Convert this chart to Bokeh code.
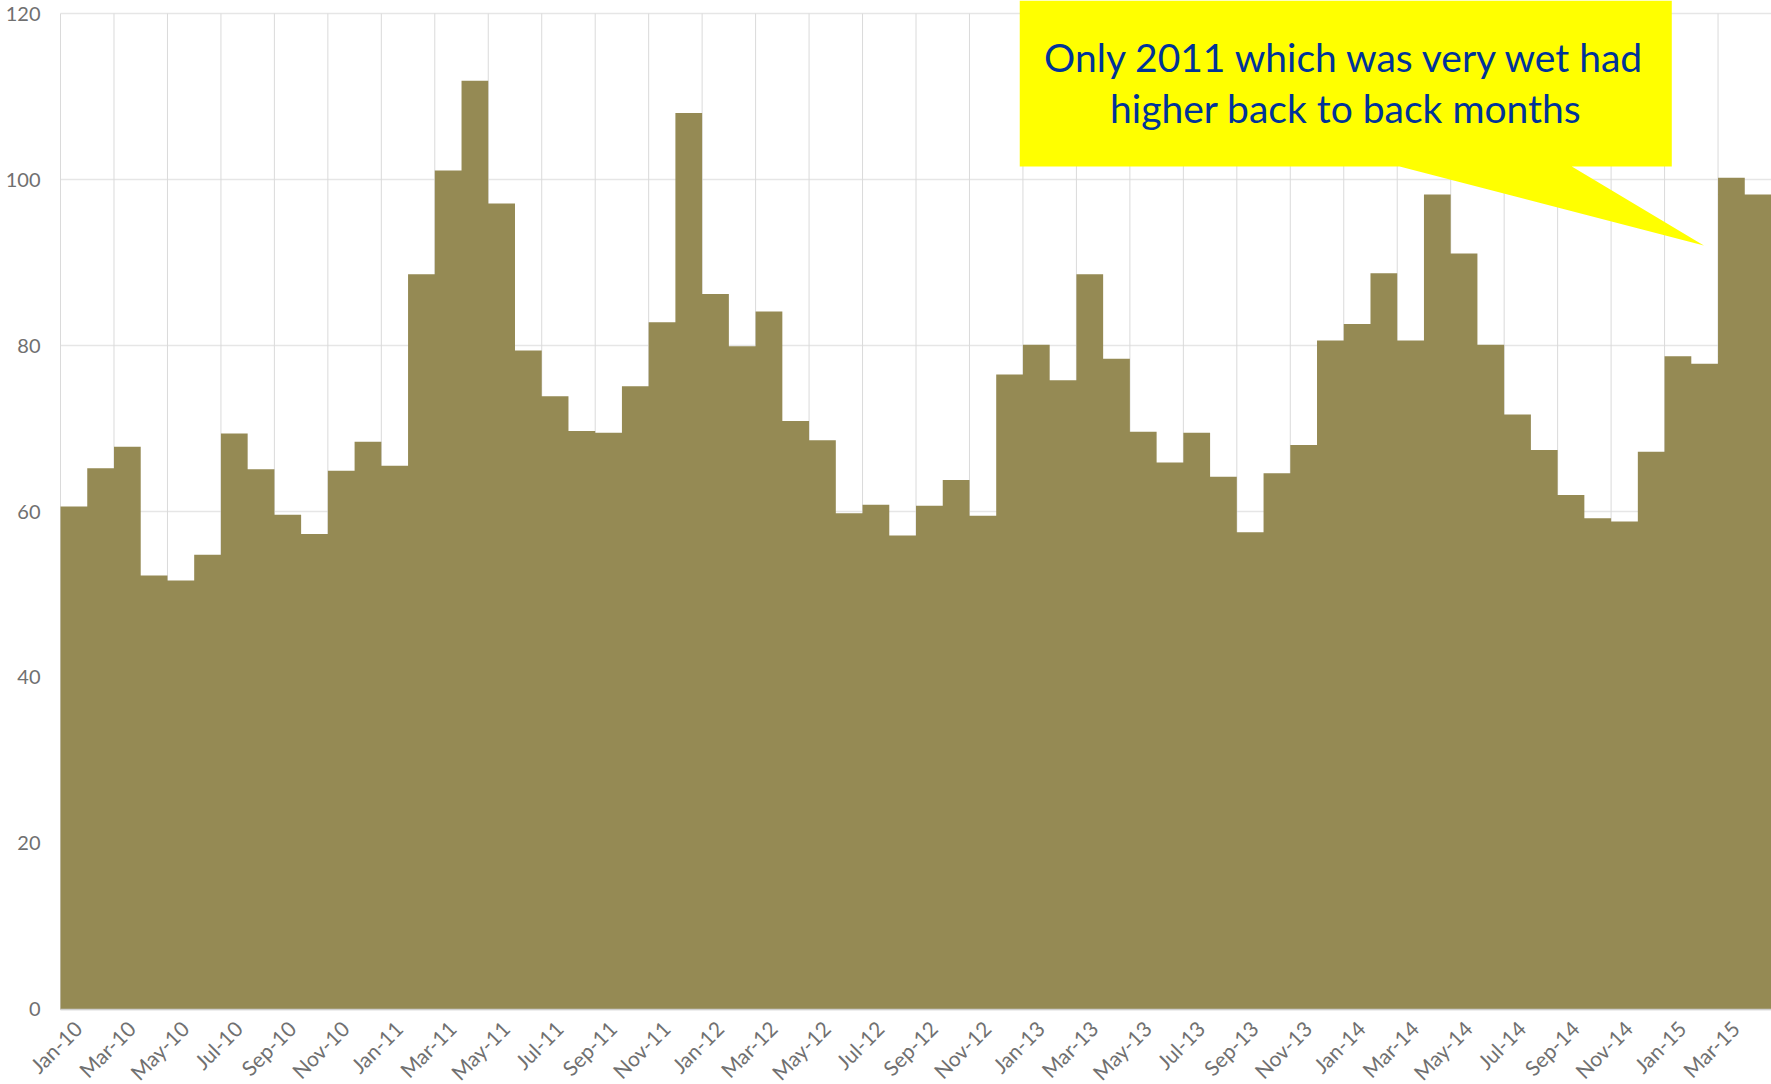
import math
import pandas as pd
from bokeh.plotting import figure
from bokeh.core.properties import value
from bokeh.models import Range1d, Label, LabelSet, ColumnDataSource
from bokeh.embed import file_html
from bokeh.resources import INLINE

# Monthly values, Jan-2010 .. Apr-2015
vals_2010 = [60.6, 65.2, 67.8, 52.3, 51.7, 54.8, 69.4, 65.1, 59.6, 57.3, 64.9, 68.4]
vals_2011 = [65.5, 88.6, 101.1, 111.9, 97.1, 79.4, 73.9, 69.7, 69.5, 75.1, 82.8, 108.0]
vals_2012 = [86.2, 79.9, 84.1, 70.9, 68.6, 59.8, 60.8, 57.1, 60.7, 63.8, 59.5, 76.5]
vals_2013 = [80.1, 75.8, 88.6, 78.4, 69.6, 65.9, 69.5, 64.2, 57.5, 64.6, 68.0, 80.6]
vals_2014 = [82.6, 88.7, 80.6, 98.2, 91.1, 80.1, 71.7, 67.4, 62.0, 59.2, 58.8, 67.2]
vals_2015 = [78.7, 77.8, 100.2, 98.2]

values = vals_2010 + vals_2011 + vals_2012 + vals_2013 + vals_2014 + vals_2015
months = pd.date_range("2010-01-01", periods=len(values), freq="MS").strftime("%b-%y").tolist()
y_ticks = [0, 20, 40, 60, 80, 100, 120]
callout_lines = ["Only 2011 which was very wet had", "higher back to back months"]

BAR = "#958A54"
GRID = "#dadada"
LABEL = "#707070"
FONT = value("Lato")

n = len(values)
x_lo, x_hi = -0.5, n - 0.5

# The frame fills the whole canvas; the margins to the left of the first
# month and below zero carry the tick labels.
p = figure(width=1771, height=1084, output_backend="svg", toolbar_location=None,
           x_range=Range1d(-2.745, x_hi), y_range=Range1d(-9.04, 121.57),
           min_border=0)
p.outline_line_color = None
p.background_fill_color = "white"
p.border_fill_color = "white"
p.axis.visible = False
p.grid.visible = False

# horizontal grid lines at the value ticks
p.segment(x0=[x_lo] * len(y_ticks), y0=y_ticks, x1=[x_hi] * len(y_ticks), y1=y_ticks,
          line_color="#e6e6e6", line_width=1.5, level="underlay")

# vertical grid every second month, from zero to the top tick
bounds = [b - 0.5 for b in range(0, n + 1, 2)]
p.segment(x0=bounds, y0=[0] * len(bounds), x1=bounds, y1=[max(y_ticks)] * len(bounds),
          line_color=GRID, line_width=1, level="underlay")

# monthly columns as one stepped area (no seams between months)
edges = [i - 0.5 for i in range(n + 1)]
p.varea_step(x=edges, y1=[0] * (n + 1), y2=values + values[-1:],
             step_mode="after", fill_color=BAR)

# category base line
p.segment(x0=[x_lo], y0=[0], x1=[x_hi], y1=[0], line_color="#cfcfcf", line_width=1.5)

# value tick labels
y_src = ColumnDataSource(dict(x=[x_lo] * len(y_ticks), y=y_ticks,
                              text=[str(t) for t in y_ticks]))
p.add_layout(LabelSet(x="x", y="y", x_offset=-20, text="text", source=y_src,
                      text_align="right", text_baseline="middle",
                      text_font=FONT, text_font_size="20px", text_color=LABEL))

# slanted month labels, every second month
tick_idx = list(range(0, n, 2))
x_src = ColumnDataSource(dict(x=[i + 0.15 for i in tick_idx],
                              y=[0] * len(tick_idx),
                              text=[months[i] for i in tick_idx]))
p.add_layout(LabelSet(x="x", y="y", y_offset=-15, text="text", source=x_src,
                      angle=math.pi / 4, text_align="right", text_baseline="middle",
                      text_font=FONT, text_font_size="21px", text_color=LABEL))

# callout box with pointer
box_l, box_r, box_b, box_t = 35.38, 59.77, 101.57, 121.57
ptr_l, ptr_r, tip_x, tip_y = 49.59, 56.03, 60.97, 92.05
p.patch(x=[box_l, box_r, box_r, ptr_r, tip_x, ptr_l, box_l],
        y=[box_t, box_t, box_b, box_b, tip_y, box_b, box_b],
        fill_color="#FFFF00", line_color=None)

cx = (box_l + box_r) / 2
for line, yb in zip(callout_lines, [114.76, 108.61]):
    p.add_layout(Label(x=cx, y=yb, text=line, text_align="center",
                       text_baseline="alphabetic", text_font="Lato",
                       text_font_size="39px", text_color="#003399"))

open("out.html", "w").write(file_html(p, INLINE))
